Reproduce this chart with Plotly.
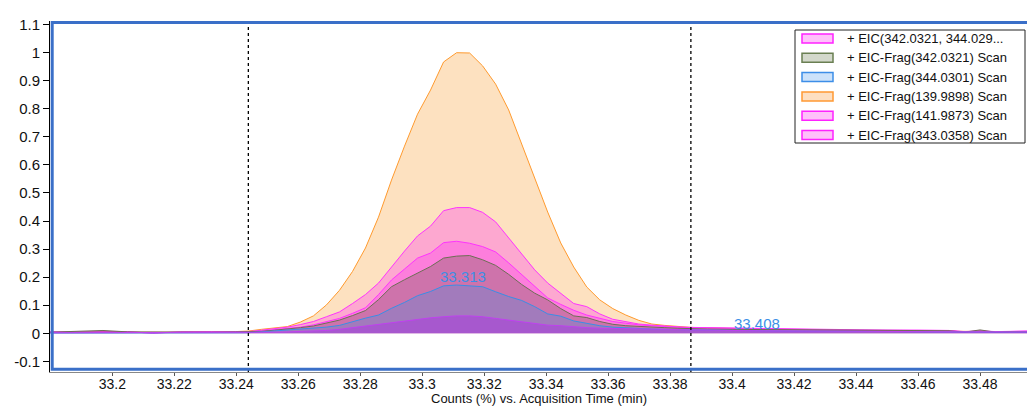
import plotly.graph_objects as go

# ---------------- data ----------------
time_left = [33.180, 33.190, 33.197, 33.205, 33.213, 33.222, 33.232, 33.2397]
time_peak = [33.2439, 33.2481, 33.2523, 33.2565, 33.2607, 33.2649, 33.2691, 33.2733,
             33.2775, 33.2817, 33.2859, 33.2901, 33.2943, 33.2985, 33.3027, 33.3069,
             33.3111, 33.3153, 33.3195, 33.3237, 33.3279, 33.3321, 33.3363, 33.3405,
             33.3447, 33.3489, 33.3531, 33.3573, 33.3615, 33.3657, 33.3699, 33.3741,
             33.3783, 33.3825, 33.3867]
time_right = [33.392, 33.400, 33.410, 33.420, 33.430, 33.440, 33.450, 33.460,
              33.470, 33.475, 33.480, 33.485, 33.490, 33.496]
acq_time = time_left + time_peak + time_right

eic_342_344 = ([0.005, 0.005, 0.006, 0.005, 0.001, 0.005, 0.005, 0.005] +
               [0.006, 0.011, 0.016, 0.022, 0.031, 0.042, 0.059, 0.076, 0.106, 0.138,
                0.179, 0.237, 0.293, 0.347, 0.382, 0.437, 0.448, 0.448, 0.431, 0.397,
                0.341, 0.284, 0.226, 0.179, 0.142, 0.106, 0.095, 0.069, 0.050, 0.042,
                0.033, 0.029, 0.025, 0.023, 0.021] +
               [0.020, 0.018, 0.016, 0.014, 0.013, 0.012, 0.011, 0.011, 0.010, 0.006,
                0.009, 0.006, 0.008, 0.008])
frag_342 = ([0.004, 0.006, 0.010, 0.005, 0.004, 0.004, 0.004, 0.005] +
            [0.005, 0.007, 0.011, 0.015, 0.020, 0.026, 0.037, 0.047, 0.063, 0.081,
             0.120, 0.166, 0.191, 0.215, 0.238, 0.268, 0.275, 0.277, 0.262, 0.242,
             0.210, 0.174, 0.143, 0.119, 0.088, 0.062, 0.056, 0.042, 0.032, 0.027,
             0.024, 0.021, 0.020, 0.018, 0.016] +
            [0.015, 0.014, 0.013, 0.012, 0.011, 0.010, 0.010, 0.010, 0.009, 0.004,
             0.012, 0.004, 0.006, 0.005])
frag_344 = ([0.001, 0.001, 0.001, 0.001, 0.001, 0.001, 0.001, 0.002] +
            [0.002, 0.005, 0.008, 0.011, 0.015, 0.018, 0.022, 0.028, 0.042, 0.054,
             0.065, 0.089, 0.110, 0.134, 0.149, 0.169, 0.172, 0.169, 0.166, 0.148,
             0.131, 0.117, 0.095, 0.069, 0.061, 0.044, 0.036, 0.027, 0.022, 0.019,
             0.017, 0.015, 0.014, 0.013, 0.012] +
            [0.011, 0.010, 0.009, 0.008, 0.007, 0.006, 0.006, 0.005, 0.005, 0.004,
             0.004, 0.004, 0.004, 0.004])
frag_139 = ([0.003, 0.003, 0.004, 0.003, 0.003, 0.003, 0.004, 0.006] +
            [0.008, 0.014, 0.019, 0.024, 0.040, 0.062, 0.101, 0.153, 0.220, 0.304,
             0.414, 0.546, 0.667, 0.781, 0.867, 0.967, 1.000, 0.999, 0.953, 0.888,
             0.796, 0.675, 0.550, 0.432, 0.322, 0.236, 0.165, 0.119, 0.088, 0.065,
             0.046, 0.033, 0.028, 0.024, 0.021] +
            [0.019, 0.017, 0.015, 0.013, 0.011, 0.010, 0.009, 0.008, 0.007, 0.005,
             0.006, 0.004, 0.005, 0.005])
frag_141 = ([0.005, 0.004, 0.006, 0.006, 0.000, 0.005, 0.006, 0.005] +
            [0.005, 0.008, 0.012, 0.017, 0.022, 0.030, 0.041, 0.053, 0.071, 0.091,
             0.138, 0.190, 0.229, 0.268, 0.286, 0.323, 0.328, 0.321, 0.309, 0.290,
             0.251, 0.210, 0.167, 0.126, 0.103, 0.082, 0.065, 0.053, 0.042, 0.036,
             0.030, 0.027, 0.023, 0.021, 0.020] +
            [0.019, 0.017, 0.015, 0.013, 0.012, 0.011, 0.011, 0.010, 0.010, 0.005,
             0.008, 0.005, 0.007, 0.008])
frag_343 = ([0.002, 0.002, 0.003, 0.002, 0.002, 0.002, 0.002, 0.002] +
            [0.002, 0.003, 0.004, 0.005, 0.006, 0.008, 0.010, 0.014, 0.020, 0.026,
             0.032, 0.038, 0.044, 0.050, 0.055, 0.059, 0.062, 0.062, 0.059, 0.053,
             0.047, 0.041, 0.034, 0.029, 0.027, 0.023, 0.020, 0.018, 0.017, 0.016,
             0.015, 0.014, 0.013, 0.013, 0.012] +
            [0.011, 0.010, 0.009, 0.008, 0.007, 0.007, 0.006, 0.006, 0.005, 0.005,
             0.005, 0.005, 0.005, 0.005])

x_ticks = [33.20, 33.22, 33.24, 33.26, 33.28, 33.30, 33.32, 33.34, 33.36, 33.38,
           33.40, 33.42, 33.44, 33.46, 33.48]
x_tick_text = ["33.2", "33.22", "33.24", "33.26", "33.28", "33.3", "33.32", "33.34",
               "33.36", "33.38", "33.4", "33.42", "33.44", "33.46", "33.48"]
y_ticks = [-0.1, 0, 0.1, 0.2, 0.3, 0.4, 0.5, 0.6, 0.7, 0.8, 0.9, 1.0, 1.1]
y_tick_text = ["-0.1", "0", "0.1", "0.2", "0.3", "0.4", "0.5", "0.6", "0.7", "0.8",
               "0.9", "1", "1.1"]
integration_bounds = [33.2439, 33.3867]
peak_labels = [(33.3132, 0.2017, "33.313"), (33.4079, 0.036, "33.408")]
legend_names = ["+ EIC(342.0321, 344.029...", "+ EIC-Frag(342.0321) Scan",
                "+ EIC-Frag(344.0301) Scan", "+ EIC-Frag(139.9898) Scan",
                "+ EIC-Frag(141.9873) Scan", "+ EIC-Frag(343.0358) Scan"]

# name, values, line colour, area fill, legend swatch fill, swatch border  (draw order bottom -> top)
series = [
    ("+ EIC-Frag(139.9898) Scan", frag_139, "#FF9A2E", "rgba(252,200,140,0.55)", "#FDDFC2", "#FF9933"),
    ("+ EIC(342.0321, 344.029...", eic_342_344, "#FF33FF", "rgba(255,0,255,0.25)", "#FFC0FA", "#FF22FF"),
    ("+ EIC-Frag(141.9873) Scan", frag_141, "#FF33FF", "rgba(255,0,255,0.25)", "#FFC0FA", "#FF22FF"),
    ("+ EIC-Frag(342.0321) Scan", frag_342, "#6E6E55", "rgba(100,90,60,0.30)", "#D3D8CB", "#6A7F52"),
    ("+ EIC-Frag(344.0301) Scan", frag_344, "#3A8EE6", "rgba(58,142,230,0.30)", "#CCE2FA", "#3D8EE8"),
    ("+ EIC-Frag(343.0358) Scan", frag_343, "#C040F0", "rgba(180,0,255,0.28)", "#FFC0FA", "#FF22FF"),
]

FONT = "Liberation Sans, Arial, sans-serif"

W, H = 1027, 406
ml, mr, mt, mb = 50, 0, 21, 34
pw, ph = W - ml - mr, H - mt - mb


def px_x(p):  # page pixel -> paper x
    return (p - ml) / pw


def px_y(p):  # page pixel -> paper y
    return (H - mb - p) / ph


fig = go.Figure()
for name, vals, lc, fc, sfc, slc in series:
    fig.add_trace(go.Scatter(
        x=acq_time, y=vals, name=name, mode="lines",
        line=dict(color=lc, width=1), fill="tozeroy", fillcolor=fc,
        showlegend=False, hoverinfo="skip"))

for xb in integration_bounds:
    fig.add_shape(type="line", xref="x", yref="paper", x0=xb, x1=xb, y0=0, y1=1,
                  line=dict(color="black", width=1.3, dash="dot"))
# blue frame of the plot area
fig.add_shape(type="rect", xref="paper", yref="paper",
              x0=px_x(52.2), x1=1.01, y0=px_y(369.3), y1=px_y(22.5),
              line=dict(color="#3A6FC8", width=3), fillcolor="rgba(0,0,0,0)")

for ax_, ay_, txt in peak_labels:
    fig.add_annotation(x=ax_, y=ay_, xref="x", yref="y", text=txt, showarrow=False,
                       font=dict(family=FONT, size=15, color="#3C8FE6"),
                       xanchor="center", yanchor="middle")

fig.add_annotation(x=0.5, y=px_y(398.5), xref="paper", yref="paper",
                   text="Counts (%) vs. Acquisition Time (min)", showarrow=False,
                   font=dict(family=FONT, size=13, color="#111"),
                   xanchor="center", yanchor="middle")

# boxed legend (drawn in the page's paper space)
fig.add_shape(type="rect", xref="paper", yref="paper",
              x0=px_x(795), x1=px_x(1025), y0=px_y(143), y1=px_y(30),
              line=dict(color="#222", width=1), fillcolor="white")
style = {s[0]: s for s in series}
for i, nm in enumerate(legend_names):
    cy = 38.5 + 19.3 * i
    s = style[nm]
    fig.add_shape(type="rect", xref="paper", yref="paper",
                  x0=px_x(802), x1=px_x(833), y0=px_y(cy + 4.5), y1=px_y(cy - 4.5),
                  line=dict(color=s[5], width=1.5), fillcolor=s[4])
    fig.add_annotation(x=px_x(845), y=px_y(cy), xref="paper", yref="paper",
                       text=nm, showarrow=False, xanchor="left", yanchor="middle",
                       font=dict(family=FONT, size=13, color="#111"))

fig.update_layout(
    width=W, height=H,
    margin=dict(l=ml, r=mr, t=mt, b=mb, autoexpand=False),
    paper_bgcolor="white", plot_bgcolor="white",
    font=dict(family=FONT, size=14, color="#111"),
    showlegend=False,
    xaxis=dict(range=[33.1799, 33.49516], tickvals=x_ticks, ticktext=x_tick_text,
               showgrid=False, zeroline=False, showline=True, linecolor="#888",
               linewidth=1, ticks="outside", ticklen=3, tickcolor="#555",
               tickfont=dict(size=14), automargin=False, ticklabelstandoff=-4),
    yaxis=dict(range=[-0.138, 1.113], tickvals=y_ticks, ticktext=y_tick_text,
               showgrid=False, zeroline=False, showline=True, linecolor="black",
               linewidth=1, ticks="outside", ticklen=6, tickcolor="black",
               tickfont=dict(size=15), automargin=False),
)

fig.write_html("out.html", config={"displayModeBar": False},
               post_script="document.body.style.margin='0px';")
